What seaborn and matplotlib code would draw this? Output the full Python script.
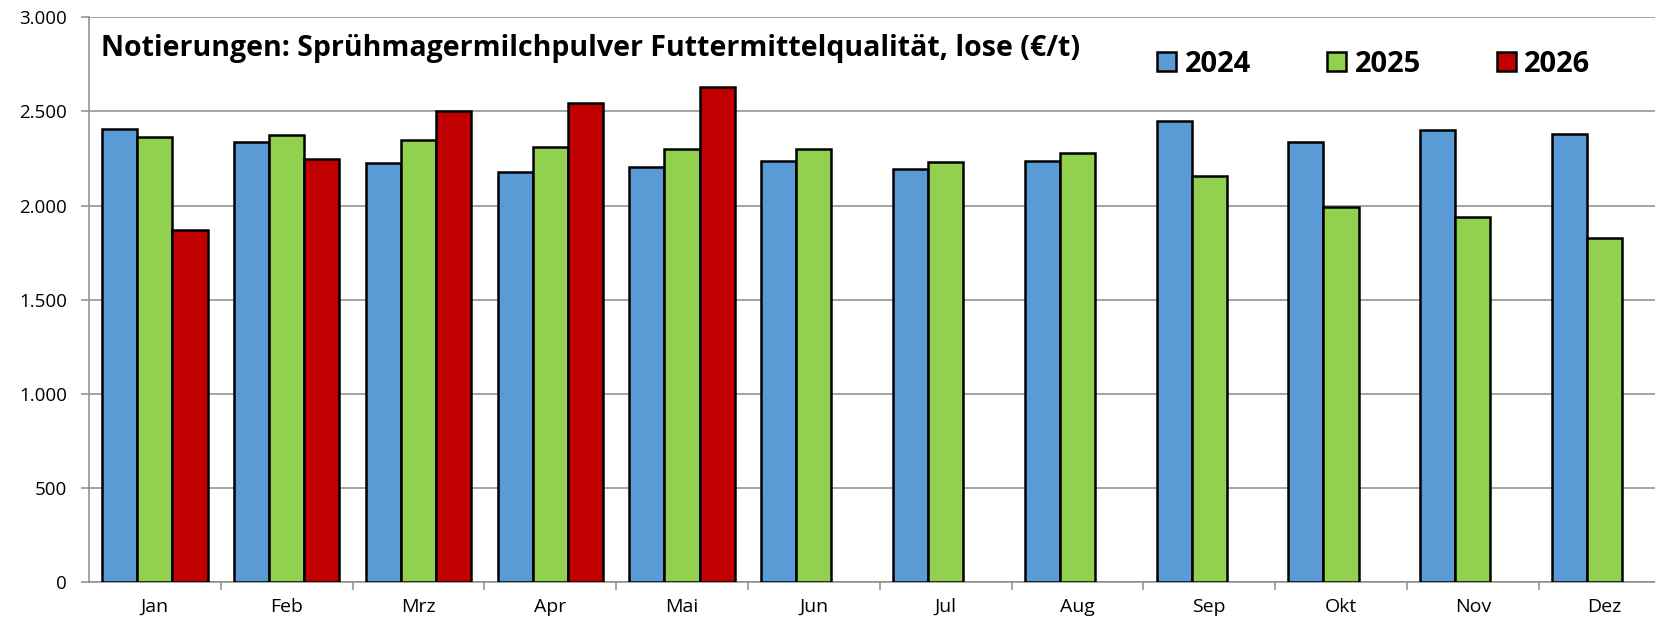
import numpy as np
import pandas as pd
import seaborn as sns
import matplotlib.pyplot as plt
from matplotlib.patches import Patch

# Data (€/t)
months = ['Jan', 'Feb', 'Mrz', 'Apr', 'Mai', 'Jun', 'Jul', 'Aug', 'Sep', 'Okt', 'Nov', 'Dez']
years = ['2024', '2025', '2026']
values_2024 = [2405, 2340, 2229, 2179, 2204, 2239, 2193, 2237, 2450, 2340, 2401, 2383]
values_2025 = [2362, 2376, 2349, 2312, 2301, 2303, 2234, 2278, 2156, 1993, 1941, 1828]
values_2026 = [1870, 2250, 2503, 2544, 2629, np.nan, np.nan, np.nan, np.nan, np.nan, np.nan, np.nan]
colors = ['#5B9BD5', '#92D050', '#C00000']

title = 'Notierungen: Sprühmagermilchpulver Futtermittelqualität, lose (€/t)'

df = pd.DataFrame({'Monat': months, '2024': values_2024, '2025': values_2025, '2026': values_2026})
df = df.melt(id_vars='Monat', var_name='Jahr', value_name='Preis').dropna()

sns.set_style('white')
plt.rcParams['font.family'] = ['Open Sans', 'DejaVu Sans']
plt.rcParams['text.color'] = 'black'
plt.rcParams['xtick.labelcolor'] = 'black'
plt.rcParams['ytick.labelcolor'] = 'black'

fig = plt.figure(figsize=(16.56, 6.2), dpi=100)
ax = fig.add_axes([89 / 1656, 1 - 582.3 / 620, 1 - 89 / 1656, (582.3 - 17.3) / 620])

sns.barplot(data=df, x='Monat', y='Preis', hue='Jahr', order=months, hue_order=years,
            palette=colors, saturation=1, width=0.8, edgecolor='black', linewidth=1.8,
            ax=ax, zorder=3, legend=False)

ax.set_ylim(0, 3000)
ax.set_xlim(-0.5, 11.39)
ax.set_yticks(range(0, 3001, 500))
ax.set_yticklabels(['0', '500', '1.000', '1.500', '2.000', '2.500', '3.000'])
ax.set_xticks(range(12))
ax.set_xticklabels(months)
ax.set_xticks(np.arange(0.5, 11.5, 1), minor=True)
ax.set_xlabel('')
ax.set_ylabel('')

ax.yaxis.grid(True, color='#8c8c8c', linewidth=1.1, zorder=0)
ax.set_axisbelow(True)
for side in ['top', 'right']:
    ax.spines[side].set_visible(False)
for side in ['left', 'bottom']:
    ax.spines[side].set_color('#8c8c8c')
    ax.spines[side].set_linewidth(1.1)

ax.tick_params(axis='y', which='major', length=6, width=1.1, color='#8c8c8c',
               direction='out', left=True, pad=10, labelsize=13.5, labelcolor='black')
ax.tick_params(axis='x', which='major', length=0, pad=11, labelsize=14, labelcolor='black')
ax.tick_params(axis='x', which='minor', length=6, width=1.1, color='#8c8c8c',
               direction='out', bottom=True)

fig.text(101 / 1656, 1 - 56 / 620, title, fontsize=20.5, fontweight='bold',
         color='black', va='baseline', ha='left')

handles = [Patch(facecolor=c, edgecolor='black', linewidth=1.8, label=y) for c, y in zip(colors, years)]
fig.legend(handles=handles, loc='center left', bbox_to_anchor=(1157 / 1656, 1 - 64.5 / 620),
           ncol=3, frameon=False, borderpad=0, borderaxespad=0,
           handlelength=0.65, handleheight=0.65, handletextpad=0.3, columnspacing=2.6,
           prop={'size': 21, 'weight': 'bold'}, labelcolor='black')

fig.savefig('out.png', dpi=100)
